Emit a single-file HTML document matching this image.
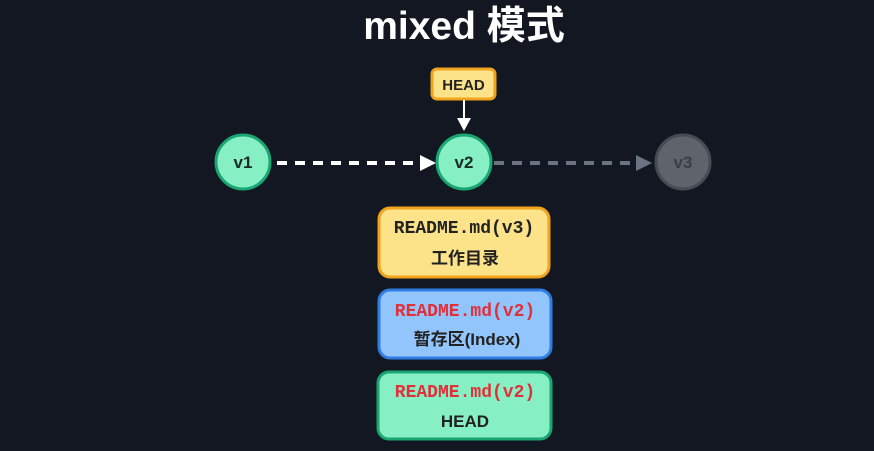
<!DOCTYPE html>
<html><head><meta charset="utf-8"><style>
html,body{margin:0;padding:0;background:#121722;}
svg{display:block}
text{font-family:"Liberation Sans","Noto Sans CJK SC",sans-serif;}
.m{font-family:"Liberation Mono","Noto Sans CJK SC",monospace;font-weight:bold;}
</style></head><body>
<svg width="874" height="451" viewBox="0 0 874 451">
<rect width="874" height="451" fill="#121722"/>
<text x="464" y="39" text-anchor="middle" font-size="39" font-weight="bold" fill="#fff">mixed 模式</text>
<rect x="432" y="69" width="63" height="30" rx="5" fill="#fce38a" stroke="#f0a31c" stroke-width="3"/>
<text x="463.5" y="90" text-anchor="middle" font-size="15" font-weight="bold" fill="#222">HEAD</text>
<line x1="464" y1="100" x2="464" y2="120" stroke="#fff" stroke-width="2"/>
<polygon points="457,118 471,118 464,131" fill="#fff"/>
<line x1="277" y1="163" x2="422" y2="163" stroke="#fff" stroke-width="4" stroke-dasharray="10,8"/>
<polygon points="420,155 436,163 420,171" fill="#fff"/>
<line x1="494" y1="163" x2="640" y2="163" stroke="#6b7280" stroke-width="4" stroke-dasharray="10,8"/>
<polygon points="636,155 652,163 636,171" fill="#6b7280"/>
<circle cx="243" cy="162" r="27" fill="#86efc4" stroke="#19a673" stroke-width="3"/>
<text x="243" y="168" text-anchor="middle" font-size="17" font-weight="bold" fill="#1b2b25">v1</text>
<circle cx="464" cy="162" r="27" fill="#86efc4" stroke="#19a673" stroke-width="3"/>
<text x="464" y="168" text-anchor="middle" font-size="17" font-weight="bold" fill="#1b2b25">v2</text>
<circle cx="683" cy="162" r="27" fill="#5f636b" stroke="#474b52" stroke-width="3"/>
<text x="683" y="168" text-anchor="middle" font-size="17" font-weight="bold" fill="#3a3e45">v3</text>
<rect x="379" y="208" width="170" height="69" rx="11" fill="#fce38a" stroke="#f0a31c" stroke-width="3"/>
<text x="464" y="233" text-anchor="middle" font-size="18" class="m" fill="#222">README.md(v3)</text>
<text x="465" y="264" text-anchor="middle" font-size="17" font-weight="bold" fill="#222">工作目录</text>
<rect x="379" y="290" width="172" height="68" rx="11" fill="#93c5fd" stroke="#2f7de1" stroke-width="3"/>
<text x="465" y="316" text-anchor="middle" font-size="18" class="m" fill="#e0303a">README.md(v2)</text>
<text x="467" y="345" text-anchor="middle" font-size="17" font-weight="bold" fill="#222">暂存区(Index)</text>
<rect x="378" y="372" width="173" height="67" rx="11" fill="#86efc4" stroke="#19a673" stroke-width="3"/>
<text x="465" y="397" text-anchor="middle" font-size="18" class="m" fill="#e0303a">README.md(v2)</text>
<text x="465" y="427" text-anchor="middle" font-size="17" font-weight="bold" fill="#222">HEAD</text>
</svg>
</body></html>
